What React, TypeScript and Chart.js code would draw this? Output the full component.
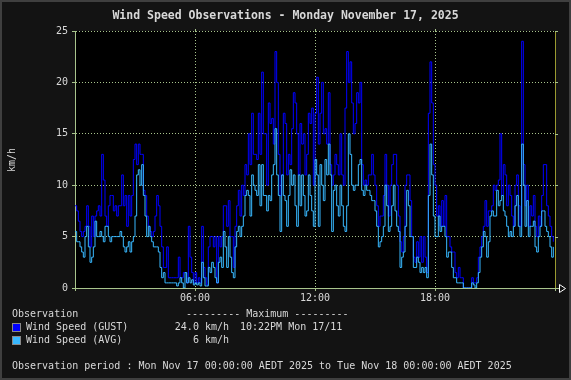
import React, { useEffect, useRef } from 'react';
import { Chart, registerables } from 'chart.js';

Chart.register(...registerables);

// ---- data ----
const TITLE = 'Wind Speed Observations - Monday November 17, 2025';
const Y_UNIT = 'km/h';
const STEP_MINUTES = 5;
const Y_MIN = 0;
const Y_MAX = 25;
const Y_STEP = 5;
const X_TICK_HOURS = [0, 6, 12, 18, 24];
const X_TICK_LABELS: Record<number, string> = { 6: '06:00', 12: '12:00', 18: '18:00' };

const gustKmh = [
  // 00:00 - 06:00
  8, 7.5, 6.5, 5.5, 5, 5.5, 6, 8, 6, 4, 7, 5, 7, 7.5, 8, 7, 13, 10.5, 7, 6, 8, 9, 9, 7.5,
  8, 7, 8, 8, 11, 8, 9, 6, 9, 7, 9, 12.5, 14, 12, 14, 13, 13, 9.5, 9, 7, 6, 5.5, 5, 5.5,
  7, 9, 8, 6, 4, 2, 2, 4, 1, 1, 1, 1, 1, 1, 3, 1, 1, 1.5, 1.5, 0.5, 6, 3, 1.5, 0.5,
  // 06:00 - 12:00
  1.5, 0.5, 1, 0.5, 6, 2, 1, 0.3, 4, 5, 5, 4, 5, 0.5, 5, 4, 5, 8, 8, 6, 8.5, 5, 5, 2,
  6, 8, 9.5, 7, 10, 9, 12, 11, 15, 12, 17, 13, 13, 12.5, 17, 13, 21, 15, 15, 10, 18, 16, 16.5, 14,
  23, 20, 13, 9, 11, 17, 16, 11, 13, 12, 15.5, 19, 18, 15, 11, 16, 14, 15, 11, 13, 17, 16, 17.5, 10,
  // 12:00 - 16:00
  17, 20.5, 14, 17, 20, 15, 15.5, 14, 19, 12, 10, 11, 13, 12, 11, 15, 11, 10, 17.5, 23, 20, 22, 18, 15,
  16, 19, 18, 20, 12, 10, 10.5, 10, 11, 11, 13, 11, 10, 8, 6, 7, 7, 9, 13, 10, 7, 10, 12, 13,
  // 16:00 - 20:00
  13, 10, 7, 4.5, 3.5, 5, 10, 11, 11, 8.5, 5, 3, 2.5, 4.5, 3, 5, 2.5, 5, 3, 1.5, 17, 22, 18, 12,
  10, 7, 8, 6, 8.5, 6, 9, 5, 5, 4, 3.5, 3.5, 1.5, 1, 2, 1, 1, 0, 0, 0, 0, 0, 1, 0.5,
  // 20:00 - 24:00
  0.5, 1, 3, 4, 5, 6, 8.5, 6, 7.5, 7.5, 8, 10, 9.5, 10, 10.5, 15, 9, 12, 11, 8, 10, 9, 7, 6,
  10, 11, 8, 6, 24, 12, 8, 10, 6, 8, 7, 9, 6, 5, 7, 6, 9, 12, 12, 8, 7, 6, 5, 4.5,
];

const avgKmh = [
  // 00:00 - 06:00
  5.5, 4.5, 4.5, 4, 3.5, 3, 5, 6, 4, 2.5, 3, 4, 6.5, 5, 5, 5.5, 5, 4.5, 6, 6, 5, 4.5, 5, 5,
  5, 5, 5, 5.5, 5, 4, 3.5, 4, 4.5, 3.5, 4.5, 5, 7, 11, 11.5, 10, 12, 9, 7, 5, 6, 5, 4.5, 4,
  4, 4, 3.5, 2, 1, 1.5, 0.5, 0.5, 0.5, 0.5, 0.5, 0.5, 0.5, 0.2, 0.5, 1, 0.5, 0, 1.5, 0.5, 1, 0.5, 0.8, 0.3,
  // 06:00 - 12:00
  0.5, 0.3, 0.5, 0.2, 2.5, 1, 0.2, 0.2, 2, 1.5, 2.5, 2, 1, 0.5, 2.5, 3, 2, 5.5, 4, 2, 5, 3, 1.5, 1,
  4, 5.5, 6, 5, 6, 7, 9, 9.5, 9, 7, 11, 10, 9.5, 9, 12, 8, 12, 9, 9, 7.5, 9, 8.5, 11, 12,
  15.5, 11, 9, 5.5, 11, 9, 8.5, 6, 9, 11.5, 10, 11, 8, 6, 11, 8, 11, 9, 7, 7.5, 11, 9, 7.5, 6,
  // 12:00 - 16:00
  12.5, 11, 6, 12, 10, 8.5, 12.5, 11, 14, 11, 5.5, 9.5, 10, 8, 7, 10, 8, 6, 5.5, 8, 15, 13, 10, 9.5,
  10, 10, 12, 12.5, 9.5, 9, 10, 9.5, 9.5, 9, 8.5, 8.5, 7.5, 6, 4, 4.5, 5, 6, 10, 8, 5.5, 6, 8, 10,
  // 16:00 - 20:00
  7.5, 6, 5.5, 2, 3, 3.5, 6, 9.5, 8, 5, 5, 2, 2, 3, 2.5, 1.5, 2, 1.5, 2, 1, 9, 14, 11, 7,
  5, 5, 7, 5.5, 6, 6, 5, 3, 3.5, 3.5, 2, 1, 1, 0.5, 0.5, 0.5, 0.5, 0, 0, 0, 0, 0, 0.5, 0.3,
  // 20:00 - 24:00
  0, 0.5, 1.5, 3, 4, 5.5, 5, 3, 4.5, 7, 7.5, 7, 7, 9.5, 8, 8.5, 9, 7.5, 7, 6, 5, 5.5, 5, 6,
  8, 9, 6, 5, 14, 10, 6, 8.5, 5, 6, 6, 6.5, 4, 3.5, 5, 6, 7.5, 7.5, 6, 5.5, 5, 4, 3, 4,
];

const LEGEND_HEADER = 'Observation';
const LEGEND_MAX_HEADER = '--------- Maximum ---------';
const SERIES_NAMES = ['Wind Speed (GUST)', 'Wind Speed (AVG)'];
const SERIES_MAX_VALUES = ['24.0 km/h', '6 km/h'];
const SERIES_MAX_TIMES = ['10:22PM Mon 17/11', ''];
const PERIOD_TEXT = 'Observation period : Mon Nov 17 00:00:00 AEDT 2025 to Tue Nov 18 00:00:00 AEDT 2025';

// ---- styles ----
const W = 571;
const H = 380;
const MONO = '"DejaVu Sans Mono", "Liberation Mono", monospace';
const BG = '#131313';
const FRAME = '#3f3f3f';
const TEXT = '#d8d8d8';
const GRID = '#a8c48c';
const RIGHT_EDGE = '#9a9a30';
const GUST_COLOR = '#0000ff';
const AVG_COLOR = '#38b8ff';
const SERIES_COLORS = [GUST_COLOR, AVG_COLOR];

const toPoints = (arr: number[]) => arr.map((v, i) => ({ x: (i * STEP_MINUTES) / 60, y: v }));

const decorPlugin = {
  id: 'decor',
  beforeDraw(chart: any) {
    const { ctx, chartArea } = chart;
    ctx.save();
    ctx.fillStyle = FRAME;
    ctx.fillRect(0, 0, W, H);
    ctx.fillStyle = BG;
    ctx.fillRect(2, 2, W - 4, H - 4);
    ctx.fillStyle = '#000000';
    ctx.fillRect(chartArea.left, chartArea.top, chartArea.right - chartArea.left, chartArea.bottom - chartArea.top);
    ctx.restore();
  },
  afterDraw(chart: any) {
    const { ctx, chartArea, scales } = chart;
    const { left, right, top, bottom } = chartArea;
    ctx.save();
    // right edge line
    ctx.strokeStyle = RIGHT_EDGE;
    ctx.lineWidth = 1;
    ctx.beginPath();
    ctx.moveTo(Math.round(right) + 0.5, top);
    ctx.lineTo(Math.round(right) + 0.5, bottom);
    ctx.stroke();
    // right-side ticks
    ctx.strokeStyle = GRID;
    const yScale = scales.y;
    for (let v = Y_MIN + Y_STEP; v <= Y_MAX; v += Y_STEP) {
      const py = Math.round(yScale.getPixelForValue(v)) + 0.5;
      ctx.beginPath();
      ctx.moveTo(Math.round(right), py);
      ctx.lineTo(Math.round(right) + 3, py);
      ctx.stroke();
    }
    // top ticks at x grid lines
    const xScale = scales.x;
    for (const h of [6, 12, 18]) {
      const px = Math.round(xScale.getPixelForValue(h)) + 0.5;
      ctx.beginPath();
      ctx.moveTo(px, top - 2);
      ctx.lineTo(px, top);
      ctx.stroke();
    }
    // arrow at end of x axis
    const by = Math.round(bottom) + 0.5;
    ctx.beginPath();
    ctx.moveTo(Math.round(right), by);
    ctx.lineTo(Math.round(right) + 4, by);
    ctx.stroke();
    ctx.strokeStyle = '#ffffff';
    ctx.beginPath();
    ctx.moveTo(559.5, by - 4);
    ctx.lineTo(565.5, by);
    ctx.lineTo(559.5, by + 4);
    ctx.closePath();
    ctx.stroke();

    // title
    ctx.fillStyle = TEXT;
    ctx.textBaseline = 'middle';
    ctx.textAlign = 'center';
    ctx.font = `bold 11.5px ${MONO}`;
    ctx.fillText(TITLE, W / 2, 16);

    // y unit
    ctx.save();
    ctx.translate(12.5, 160);
    ctx.rotate(-Math.PI / 2);
    ctx.font = `10px ${MONO}`;
    ctx.textAlign = 'center';
    ctx.fillText(Y_UNIT, 0, 0);
    ctx.restore();

    // legend
    ctx.font = `10px ${MONO}`;
    ctx.textAlign = 'left';
    ctx.fillText(LEGEND_HEADER, 12, 314.5);
    ctx.fillText(LEGEND_MAX_HEADER, 186, 314.5);
    const rowsY = [327.5, 340.5];
    SERIES_NAMES.forEach((name, i) => {
      const ry = rowsY[i];
      ctx.fillStyle = '#888888';
      ctx.fillRect(12, ry - 4.5, 9, 9);
      ctx.fillStyle = SERIES_COLORS[i];
      ctx.fillRect(13, ry - 3.5, 7, 7);
      ctx.fillStyle = TEXT;
      ctx.textAlign = 'left';
      ctx.fillText(name, 26, ry);
      ctx.textAlign = 'right';
      ctx.fillText(SERIES_MAX_VALUES[i], 229, ry);
      ctx.textAlign = 'left';
      if (SERIES_MAX_TIMES[i]) ctx.fillText(SERIES_MAX_TIMES[i], 240, ry);
    });
    ctx.textAlign = 'left';
    ctx.fillText(PERIOD_TEXT, 12, 366);
    ctx.restore();
  },
};

export default function App() {
  const ref = useRef<HTMLCanvasElement | null>(null);

  useEffect(() => {
    document.body.style.margin = '0';
    const canvas = ref.current;
    if (!canvas) return;
    const chart = new Chart(canvas, {
      type: 'line',
      data: {
        datasets: [
          {
            label: SERIES_NAMES[1],
            data: toPoints(avgKmh),
            borderColor: AVG_COLOR,
            borderWidth: 1,
            pointRadius: 0,
            stepped: true,
            fill: false,
            order: 0,
          },
          {
            label: SERIES_NAMES[0],
            data: toPoints(gustKmh),
            borderColor: GUST_COLOR,
            borderWidth: 1,
            pointRadius: 0,
            stepped: true,
            fill: false,
            order: 1,
          },
        ],
      },
      options: {
        responsive: false,
        animation: false,
        devicePixelRatio: 1,
        parsing: true,
        layout: { padding: { top: 31, right: 16, left: 0, bottom: 0 } },
        plugins: {
          legend: { display: false },
          title: { display: false },
          tooltip: { enabled: false },
        },
        scales: {
          x: {
            type: 'linear',
            min: 0,
            max: 24,
            afterBuildTicks: (s: any) => {
              s.ticks = X_TICK_HOURS.map((v) => ({ value: v }));
            },
            afterFit: (s: any) => {
              s.height = 92;
            },
            ticks: {
              autoSkip: false,
              maxRotation: 0,
              minRotation: 0,
              color: TEXT,
              font: { family: MONO, size: 10 },
              padding: 1,
              callback: (v: any) => X_TICK_LABELS[v as number] ?? '',
            },
            grid: {
              color: GRID,
              lineWidth: 1,
              tickLength: 3,
              tickColor: GRID,
              tickBorderDash: [],
            },
            border: { display: true, color: GRID, width: 1, dash: [1, 2] },
          },
          y: {
            min: Y_MIN,
            max: Y_MAX,
            afterFit: (s: any) => {
              s.width = 75;
            },
            ticks: {
              stepSize: Y_STEP,
              color: TEXT,
              font: { family: MONO, size: 10 },
              padding: 4,
            },
            grid: {
              color: GRID,
              lineWidth: 1,
              tickLength: 3,
              tickColor: GRID,
              tickBorderDash: [],
            },
            border: { display: true, color: GRID, width: 1, dash: [1, 2] },
          },
        },
      },
      plugins: [decorPlugin],
    } as any);
    return () => chart.destroy();
  }, []);

  return (
    <div style={{ position: 'absolute', left: 0, top: 0, width: W, height: H }}>
      <canvas ref={ref} width={W} height={H} style={{ display: 'block', width: W, height: H }} />
    </div>
  );
}
